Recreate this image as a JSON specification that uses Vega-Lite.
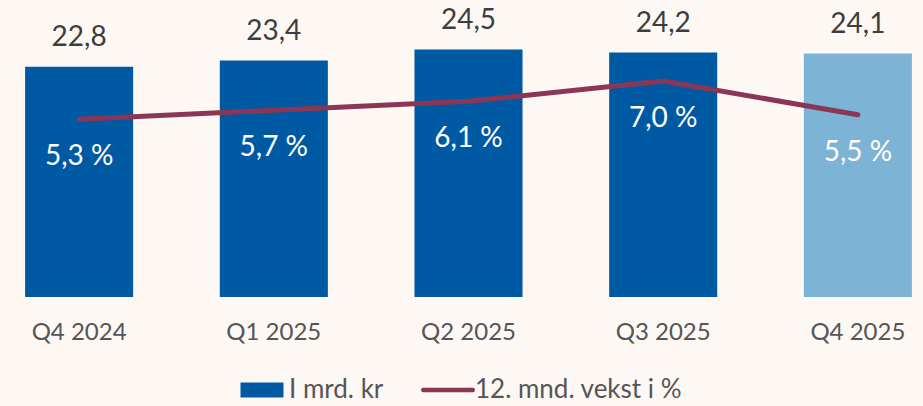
{
  "$schema": "https://vega.github.io/schema/vega-lite/v6.json",
  "width": 909,
  "height": 297,
  "autosize": {"type": "none"},
  "padding": {"left": 14, "top": 0, "right": 0, "bottom": 109},
  "background": "#fdf8f4",
  "config": {
    "view": {"stroke": null},
    "font": "Lato"
  },
  "data": {
    "values": [
      {"q": "Q4 2024", "mrd": 22.8, "mrd_label": "22,8", "vekst": 5.3, "vekst_label": "5,3 %"},
      {"q": "Q1 2025", "mrd": 23.4, "mrd_label": "23,4", "vekst": 5.7, "vekst_label": "5,7 %"},
      {"q": "Q2 2025", "mrd": 24.5, "mrd_label": "24,5", "vekst": 6.1, "vekst_label": "6,1 %"},
      {"q": "Q3 2025", "mrd": 24.2, "mrd_label": "24,2", "vekst": 7.0, "vekst_label": "7,0 %"},
      {"q": "Q4 2025", "mrd": 24.1, "mrd_label": "24,1", "vekst": 5.5, "vekst_label": "5,5 %"}
    ]
  },
  "encoding": {
    "x": {
      "field": "q",
      "type": "ordinal",
      "sort": null,
      "scale": {"paddingInner": 0.445, "paddingOuter": 0.057},
      "axis": {
        "title": null,
        "domain": false,
        "ticks": false,
        "labelAngle": 0,
        "labelFontSize": 24,
        "labelColor": "#555555",
        "labelPadding": 23,
        "labelFont": "Lato"
      }
    }
  },
  "layer": [
    {
      "layer": [
        {
          "mark": {"type": "bar"},
          "encoding": {
            "y": {
              "field": "mrd",
              "type": "quantitative",
              "scale": {"domain": [0, 29.4], "nice": false},
              "axis": null
            },
            "color": {
              "condition": {"test": "datum.q === 'Q4 2025'", "value": "#7db3d4"},
              "datum": "I mrd. kr",
              "type": "nominal",
              "scale": {"domain": ["I mrd. kr", "12. mnd. vekst i %"], "range": ["#0059a3", "#8a3654"]},
              "legend": {
                "title": null,
                "orient": "none",
                "legendX": 235,
                "legendY": 377,
                "direction": "horizontal",
                "labelFontSize": 26,
                "labelColor": "#555555",
                "labelFont": "Lato",
                "labelLimit": 400,
                "symbolSize": 1849,
                "labelOffset": 14,
                "columnPadding": 30,
                "encode": {
                  "symbols": {
                    "update": {
                      "shape": {"signal": "datum.value === 'I mrd. kr' ? 'M-1,-0.35H1V0.35H-1Z' : 'M-1.15,0H1.15'"},
                      "strokeWidth": {"signal": "datum.value === 'I mrd. kr' ? 0 : 4.5"},
                      "stroke": {"signal": "datum.value === 'I mrd. kr' ? '#0059a3' : '#8a3654'"},
                      "fill": {"signal": "datum.value === 'I mrd. kr' ? '#0059a3' : 'transparent'"},
                      "strokeCap": {"value": "round"}
                    }
                  }
                }
              }
            }
          }
        },
        {
          "mark": {"type": "text", "dy": -29, "baseline": "middle", "fontSize": 28, "color": "#3d3d3d", "font": "Lato"},
          "encoding": {
            "y": {"field": "mrd", "type": "quantitative", "scale": {"domain": [0, 29.4], "nice": false}},
            "text": {"field": "mrd_label"}
          }
        }
      ]
    },
    {
      "layer": [
        {
          "mark": {"type": "line", "strokeWidth": 5, "strokeCap": "round", "strokeJoin": "round"},
          "encoding": {
            "y": {
              "field": "vekst",
              "type": "quantitative",
              "scale": {"domain": [-2.6, 10.6], "nice": false, "zero": false},
              "axis": null
            },
            "color": {"datum": "12. mnd. vekst i %", "type": "nominal"}
          }
        },
        {
          "mark": {"type": "text", "dy": 38, "baseline": "middle", "fontSize": 28, "color": "#ffffff", "font": "Lato"},
          "encoding": {
            "y": {"field": "vekst", "type": "quantitative", "scale": {"domain": [-2.6, 10.6], "nice": false, "zero": false}},
            "text": {"field": "vekst_label"}
          }
        }
      ],
      "resolve": {"scale": {"y": "shared"}}
    }
  ],
  "resolve": {"scale": {"y": "independent"}}
}
